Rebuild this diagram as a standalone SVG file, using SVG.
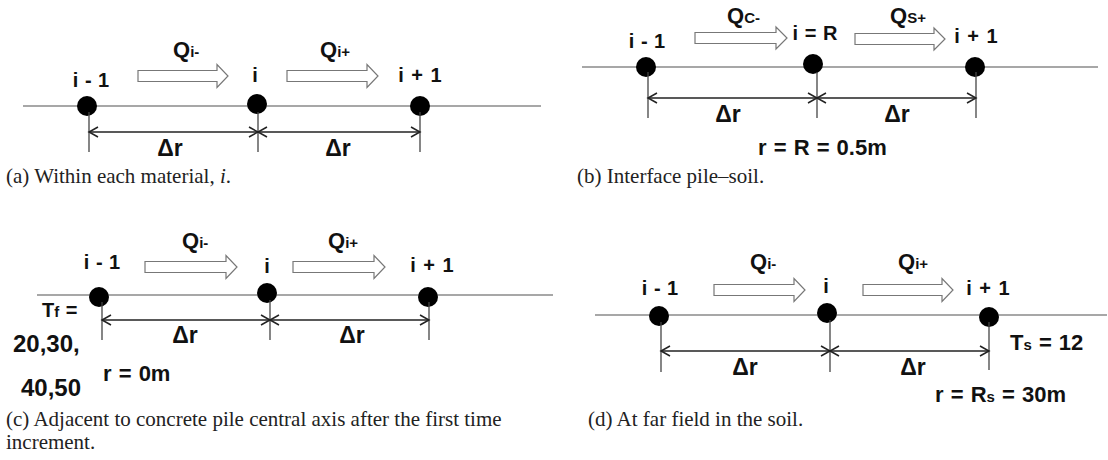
<svg xmlns="http://www.w3.org/2000/svg" width="1108" height="460" viewBox="0 0 1108 460">
<style>
.ln{stroke:#8a8a8a;stroke-width:1.6;fill:none}
.dot{fill:#000}
.tick{stroke:#444;stroke-width:1.3;fill:none}
.dim{stroke:#222;stroke-width:1.3;fill:none;marker-start:url(#chev);marker-end:url(#chev)}
.ha{fill:#fff;stroke:#777;stroke-width:1.2}
.lbl{font-family:"Liberation Sans",Arial,sans-serif;font-weight:bold;fill:#111;font-size:20px;word-spacing:1px}
.big{font-size:23px}
.mid{font-size:22px}
.q{font-size:22px}
.sub{font-size:15px}
.cap{font-family:"Liberation Serif","Times New Roman",serif;font-size:21px;fill:#222}
</style>
<defs>
<marker id="chev" viewBox="-11 -7 13 14" refX="0" refY="0" markerWidth="13" markerHeight="14" markerUnits="userSpaceOnUse" orient="auto-start-reverse">
<path d="M-9,-5 L0,0 L-9,5" fill="none" stroke="#222" stroke-width="1.5"/>
</marker>
</defs>

<!-- Panel a -->
<g id="panel-a">
<line class="ln" x1="23" y1="106" x2="541" y2="106"/>
<g id="a-node1"><circle class="dot" cx="87" cy="106" r="10"/><text class="lbl" x="91" y="87" text-anchor="middle">i - 1</text></g>
<g id="a-node2"><circle class="dot" cx="257" cy="104" r="10"/><text class="lbl" x="255" y="82" text-anchor="middle">i</text></g>
<g id="a-node3"><circle class="dot" cx="420" cy="106" r="10"/><text class="lbl" x="420" y="82" text-anchor="middle" style="word-spacing:2px">i + 1</text></g>
<g id="a-connectors">
<line class="tick" x1="89" y1="112" x2="89" y2="152"/>
<line class="tick" x1="258" y1="112" x2="258" y2="152"/>
<line class="tick" x1="420" y1="112" x2="420" y2="152"/>
<line class="dim" x1="89" y1="132" x2="258" y2="132"/>
<line class="dim" x1="258" y1="132" x2="420" y2="132"/>
<polygon class="ha" points="138,70.5 217,70.5 217,64.5 228,76 217,87.5 217,81.5 138,81.5"/>
<polygon class="ha" points="287,70.5 367,70.5 367,64.5 378,76 367,87.5 367,81.5 287,81.5"/>
</g>
<text class="lbl big" x="170" y="156" text-anchor="middle">Δr</text>
<text class="lbl big" x="338" y="156" text-anchor="middle">Δr</text>
<text class="lbl q" x="173" y="57">Q<tspan class="sub">i-</tspan></text>
<text class="lbl q" x="320" y="57">Q<tspan class="sub">i+</tspan></text>
<text class="cap" x="6" y="183">(a) Within each material, <tspan font-style="italic">i</tspan>.</text>
</g>

<!-- Panel b -->
<g id="panel-b">
<line class="ln" x1="582" y1="67" x2="1098" y2="67"/>
<g id="b-node1"><circle class="dot" cx="646" cy="67" r="10"/><text class="lbl" x="647" y="48" text-anchor="middle">i - 1</text></g>
<g id="b-node2"><circle class="dot" cx="813" cy="64" r="10"/><text class="lbl" x="815" y="40" text-anchor="middle">i = R</text></g>
<g id="b-node3"><circle class="dot" cx="975" cy="67" r="10"/><text class="lbl" x="976" y="43" text-anchor="middle" style="word-spacing:2px">i + 1</text></g>
<g id="b-connectors">
<line class="tick" x1="648" y1="72" x2="648" y2="118"/>
<line class="tick" x1="817" y1="72" x2="817" y2="118"/>
<line class="tick" x1="976" y1="72" x2="976" y2="118"/>
<line class="dim" x1="648" y1="98" x2="817" y2="98"/>
<line class="dim" x1="817" y1="98" x2="976" y2="98"/>
<polygon class="ha" points="695,32.5 776,32.5 776,27 787,38 776,49 776,43.5 695,43.5"/>
<polygon class="ha" points="855,33.5 934,33.5 934,28 945,39 934,50 934,44.5 855,44.5"/>
</g>
<text class="lbl big" x="728" y="122" text-anchor="middle">Δr</text>
<text class="lbl big" x="897" y="122" text-anchor="middle">Δr</text>
<text class="lbl q" x="727" y="23">Q<tspan class="sub">C-</tspan></text>
<text class="lbl q" x="890" y="23">Q<tspan class="sub">S+</tspan></text>
<text class="lbl mid" x="758" y="155">r = R = 0.5m</text>
<text class="cap" x="577" y="183">(b) Interface pile–soil.</text>
</g>

<!-- Panel c -->
<g id="panel-c">
<line class="ln" x1="37" y1="295" x2="553" y2="295"/>
<g id="c-node1"><circle class="dot" cx="99" cy="297" r="10"/><text class="lbl" x="102" y="269" text-anchor="middle">i - 1</text></g>
<g id="c-node2"><circle class="dot" cx="267" cy="293" r="10"/><text class="lbl" x="267" y="273" text-anchor="middle">i</text></g>
<g id="c-node3"><circle class="dot" cx="428" cy="297" r="10"/><text class="lbl" x="432" y="272" text-anchor="middle" style="word-spacing:2px">i + 1</text></g>
<g id="c-connectors">
<line class="tick" x1="102" y1="302" x2="102" y2="340"/>
<line class="tick" x1="270" y1="300" x2="270" y2="340"/>
<line class="tick" x1="429" y1="302" x2="429" y2="340"/>
<line class="dim" x1="102" y1="320" x2="270" y2="320"/>
<line class="dim" x1="270" y1="320" x2="429" y2="320"/>
<polygon class="ha" points="145,261.5 226,261.5 226,255.5 237,267 226,278.5 226,272.5 145,272.5"/>
<polygon class="ha" points="293,261.5 374,261.5 374,255.5 385,267 374,278.5 374,272.5 293,272.5"/>
</g>
<text class="lbl big" x="185" y="343" text-anchor="middle">Δr</text>
<text class="lbl big" x="352" y="343" text-anchor="middle">Δr</text>
<text class="lbl q" x="182" y="248">Q<tspan class="sub">i-</tspan></text>
<text class="lbl q" x="328" y="248">Q<tspan class="sub">i+</tspan></text>
<text class="lbl" x="42" y="317">T<tspan class="sub">f</tspan> =</text>
<text class="lbl" x="13" y="352" style="font-size:24px">20,30,</text>
<text class="lbl mid" x="103" y="381">r = 0m</text>
<text class="lbl" x="21" y="396" style="font-size:24px">40,50</text>
<text class="cap" x="6" y="426">(c) Adjacent to concrete pile central axis after the first time</text>
<text class="cap" x="6" y="449">increment.</text>
</g>

<!-- Panel d -->
<g id="panel-d">
<line class="ln" x1="595" y1="315" x2="1107" y2="315"/>
<g id="d-node1"><circle class="dot" cx="659" cy="316" r="10"/><text class="lbl" x="660" y="295" text-anchor="middle">i - 1</text></g>
<g id="d-node2"><circle class="dot" cx="827" cy="313" r="10"/><text class="lbl" x="826" y="293" text-anchor="middle">i</text></g>
<g id="d-node3"><circle class="dot" cx="989" cy="317" r="10"/><text class="lbl" x="988" y="295" text-anchor="middle" style="word-spacing:2px">i + 1</text></g>
<g id="d-connectors">
<line class="tick" x1="661" y1="322" x2="661" y2="372"/>
<line class="tick" x1="830" y1="320" x2="830" y2="372"/>
<line class="tick" x1="989" y1="322" x2="989" y2="370"/>
<line class="dim" x1="661" y1="351" x2="830" y2="351"/>
<line class="dim" x1="830" y1="351" x2="989" y2="351"/>
<polygon class="ha" points="714,284.5 794,284.5 794,278.5 805,290 794,301.5 794,295.5 714,295.5"/>
<polygon class="ha" points="863,284.5 942,284.5 942,278.5 953,290 942,301.5 942,295.5 863,295.5"/>
</g>
<text class="lbl big" x="745" y="375" text-anchor="middle">Δr</text>
<text class="lbl big" x="913" y="375" text-anchor="middle">Δr</text>
<text class="lbl q" x="750" y="269">Q<tspan class="sub">i-</tspan></text>
<text class="lbl q" x="898" y="269">Q<tspan class="sub">i+</tspan></text>
<text class="lbl mid" x="1010" y="350">T<tspan class="sub">s</tspan> = 12</text>
<text class="lbl mid" x="935" y="402">r = R<tspan class="sub">s</tspan> = 30m</text>
<text class="cap" x="588" y="426">(d) At far field in the soil.</text>
</g>
</svg>
